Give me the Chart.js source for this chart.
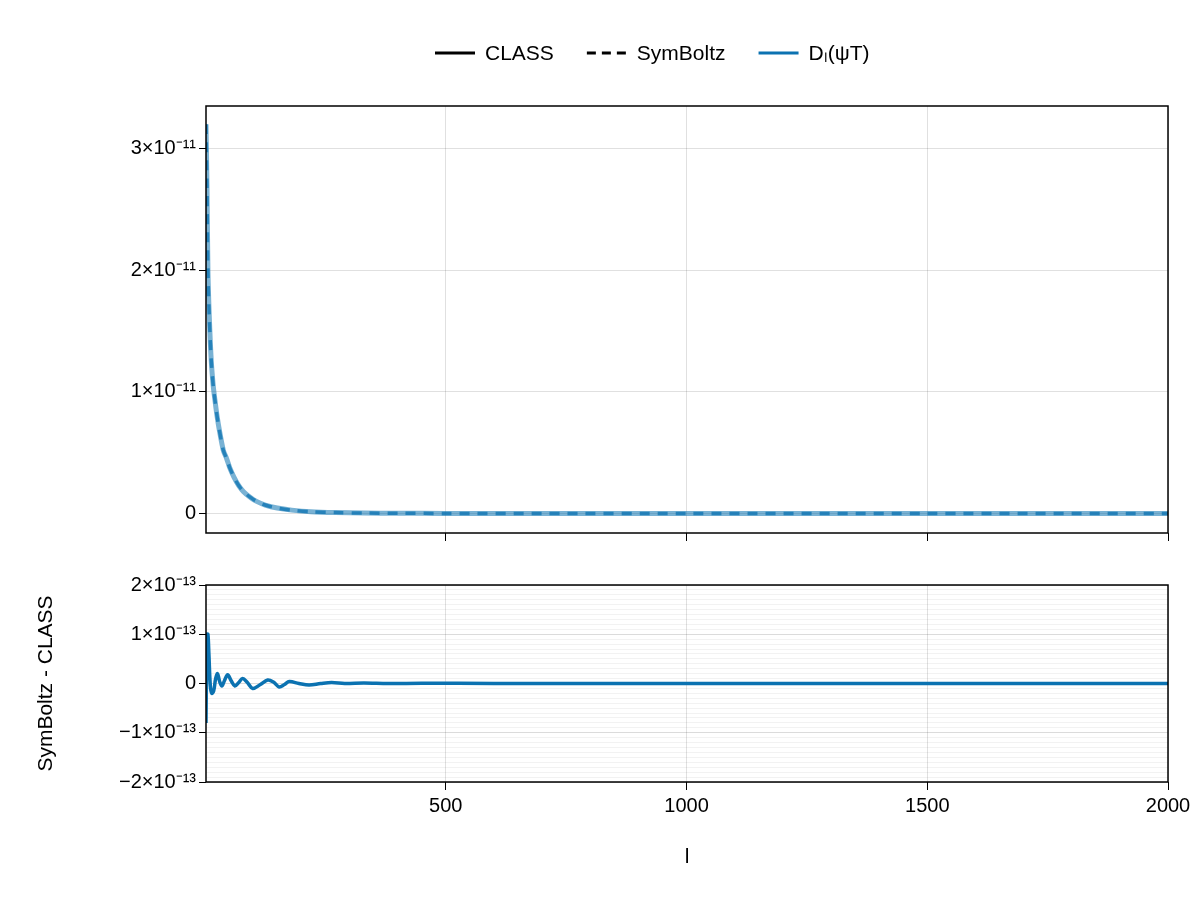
<!DOCTYPE html>
<html><head><meta charset="utf-8">
<script src="https://cdn.jsdelivr.net/npm/chart.js@4.4.1/dist/chart.umd.min.js"></script>
<style>
body{margin:0;background:#fff;}
#wrap{position:relative;width:1200px;height:900px;}
#top{position:absolute;left:0;top:0;width:1200px;height:548px;}
#bot{position:absolute;left:0;top:548px;width:1200px;height:352px;}
</style></head><body>
<div id="wrap">
<div id="top"><canvas id="c1"></canvas></div>
<div id="bot"><canvas id="c2"></canvas></div>
</div>
<script>
// Datos
const ell = [2, 4, 6, 9, 13, 17, 20, 25, 30, 38, 45, 51, 60, 70, 80, 95, 107, 125, 150, 180, 220, 270, 330, 400, 500, 700, 1000, 1500, 2000];
const dlCLASS = [3.2, 2.7, 2.0, 1.6, 1.25, 1.05, 0.95, 0.8, 0.68, 0.52, 0.45, 0.38, 0.3, 0.23, 0.18, 0.13, 0.1, 0.07, 0.045, 0.028, 0.015, 0.008, 0.004, 0.002, 0.001, 0.0004, 0.0002, 0.0001, 0.00005].map(v => v * 1e-11);
const dlSym = dlCLASS.slice();

const ellDiff = [2, 3, 4, 6, 8, 11, 14, 18, 22, 26, 30, 35, 40, 47, 54, 62, 70, 78, 88, 99, 115, 130, 142, 154, 165, 175, 195, 216, 240, 263, 290, 330, 380, 450, 600, 800, 1200, 1600, 2000];
const diff = [-0.8, 0.2, 1.0, 1.0, 0.6, -0.05, -0.2, -0.15, 0.1, 0.2, 0.05, -0.05, 0.05, 0.18, 0.06, -0.05, 0.02, 0.1, 0.02, -0.1, -0.02, 0.07, 0.03, -0.07, -0.02, 0.04, 0.0, -0.03, 0.0, 0.02, 0.0, 0.01, 0.0, 0.005, 0.0, 0.0, 0.0, 0.0, 0.0].map(v => v * 1e-13);

const xTicks = [500, 1000, 1500, 2000];
const topTicks = [0, 1e-11, 2e-11, 3e-11];
const topLabels = ['0', '1×10⁻¹¹', '2×10⁻¹¹', '3×10⁻¹¹'];
const botLabels = ['−2×10⁻¹³', '−1×10⁻¹³', '0', '1×10⁻¹³', '2×10⁻¹³'];
const legendNames = ['CLASS', 'SymBoltz', 'Dₗ(ψT)'];

const FONT = '"Liberation Sans", Arial, sans-serif';
Chart.defaults.font.family = FONT;
Chart.defaults.color = '#000';
const BLUE = '#0b72b1';

const pts = (xs, ys) => xs.map((x, i) => ({ x, y: ys[i] }));

const frame = {
  id: 'frame',
  afterDraw(chart) {
    const { ctx, chartArea: a } = chart;
    ctx.save();
    ctx.strokeStyle = '#000';
    ctx.lineWidth = 1.5;
    ctx.strokeRect(a.left, a.top, a.right - a.left, a.bottom - a.top);
    ctx.restore();
  }
};

// Leyenda propia (Chart.js no dibuja bien el trazo discontinuo en la caja)
const legendBar = {
  id: 'legendBar',
  afterDraw(chart) {
    const { ctx } = chart;
    const styles = [
      { color: '#000', dash: [] },
      { color: '#000', dash: [9, 6] },
      { color: BLUE, dash: [] }
    ];
    ctx.save();
    ctx.font = '21px ' + FONT;
    ctx.textBaseline = 'middle';
    const y = 53;
    let x = 435;
    legendNames.forEach((name, i) => {
      ctx.strokeStyle = styles[i].color;
      ctx.lineWidth = 3;
      ctx.setLineDash(styles[i].dash);
      ctx.beginPath(); ctx.moveTo(x, y); ctx.lineTo(x + 40, y); ctx.stroke();
      ctx.setLineDash([]);
      ctx.fillStyle = '#000';
      ctx.fillText(name, x + 50, y + 1);
      x += 50 + ctx.measureText(name).width + 33;
    });
    ctx.restore();
  }
};

const xBase = {
  type: 'linear', min: 2, max: 2000,
  afterBuildTicks: s => { s.ticks = xTicks.map(v => ({ value: v })); },
  grid: { color: 'rgba(0,0,0,0.12)', tickColor: '#000', tickLength: 8, drawTicks: true },
  border: { display: false }
};

new Chart(document.getElementById('c1'), {
  type: 'line',
  data: {
    datasets: [
      { label: 'CLASS', data: pts(ell, dlCLASS), borderColor: 'rgba(11,114,177,0.55)', borderWidth: 5, pointRadius: 0, tension: 0.3 },
      { label: 'SymBoltz', data: pts(ell, dlSym), borderColor: 'rgba(11,114,177,0.75)', borderWidth: 3.5, borderDash: [10, 8], pointRadius: 0, tension: 0.3 }
    ]
  },
  options: {
    responsive: true, maintainAspectRatio: false, animation: false,
    layout: { padding: { right: 32, top: 106, left: 30 } },
    plugins: { tooltip: { enabled: false }, legend: { display: false } },
    scales: {
      x: Object.assign({}, xBase, {
        ticks: { callback: () => '', padding: 0 },
        afterFit: s => { s.height = 8; }
      }),
      y: {
        min: -0.16e-11, max: 3.35e-11,
        afterBuildTicks: s => { s.ticks = topTicks.map(v => ({ value: v })); },
        ticks: { font: { size: 20 }, callback: (v) => topLabels[topTicks.indexOf(v)] ?? '' },
        grid: { color: 'rgba(0,0,0,0.12)', tickColor: '#000', tickLength: 7 },
        border: { display: false },
        afterFit: s => { s.width = 176; }
      }
    }
  },
  plugins: [frame, legendBar]
});

const minorTicks = [];
for (let i = -20; i <= 20; i++) minorTicks.push(i * 1e-14);

new Chart(document.getElementById('c2'), {
  type: 'line',
  data: {
    datasets: [
      { label: 'diff', data: pts(ellDiff, diff), borderColor: BLUE, borderWidth: 3.5, pointRadius: 0, tension: 0.35 }
    ]
  },
  options: {
    responsive: true, maintainAspectRatio: false, animation: false,
    layout: { padding: { right: 32, top: 37, left: 30, bottom: 26 } },
    plugins: { legend: { display: false }, tooltip: { enabled: false } },
    scales: {
      x: Object.assign({}, xBase, {
        ticks: { font: { size: 20 }, padding: 4, callback: v => String(v) },
        title: { display: true, text: 'l', font: { size: 21 }, padding: { top: 6 } },
        afterFit: s => { s.height = 92; }
      }),
      y: {
        min: -2e-13, max: 2e-13,
        afterBuildTicks: s => { s.ticks = minorTicks.map(v => ({ value: v })); },
        ticks: {
          font: { size: 20 }, autoSkip: false,
          callback: (v, i) => (i % 10 === 0) ? botLabels[i / 10] : ''
        },
        grid: {
          color: c => (c.index % 10 === 0) ? 'rgba(0,0,0,0.14)' : 'rgba(0,0,0,0.05)',
          tickColor: c => (c.index % 10 === 0) ? '#000' : 'rgba(0,0,0,0)',
          tickLength: 7
        },
        border: { display: false },
        title: { display: true, text: 'SymBoltz - CLASS', font: { size: 21 }, padding: { bottom: 4 } },
        afterFit: s => { s.width = 176; }
      }
    }
  },
  plugins: [frame]
});
</script>
</body></html>
